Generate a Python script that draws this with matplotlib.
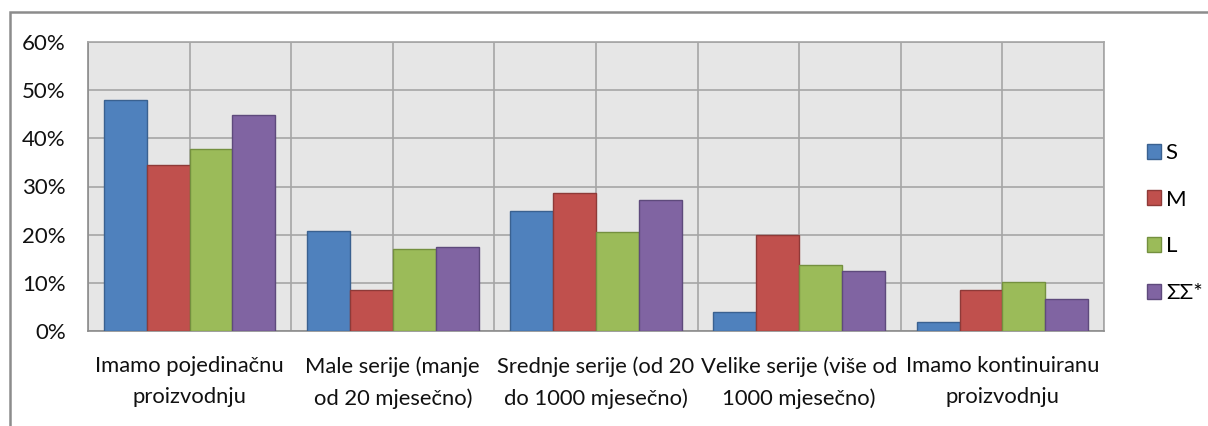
import numpy as np
import matplotlib
matplotlib.use("Agg")
import matplotlib.pyplot as plt
from matplotlib.patches import Rectangle
from matplotlib.ticker import FuncFormatter, MultipleLocator

plt.rcParams["font.family"] = ["Lato", "DejaVu Sans"]

categories = [
    "Imamo pojedinačnu\nproizvodnju",
    "Male serije (manje\nod 20 mjesečno)",
    "Srednje serije (od 20\ndo 1000 mjesečno)",
    "Velike serije (više od\n1000 mjesečno)",
    "Imamo kontinuiranu\nproizvodnju",
]
series_names = ["S", "M", "L", "ΣΣ*"]
s_vals = [48.0, 20.8, 25.0, 4.0, 1.9]
m_vals = [34.5, 8.5, 28.6, 20.0, 8.5]
l_vals = [37.8, 17.1, 20.6, 13.6, 10.1]
sum_vals = [44.8, 17.4, 27.2, 12.5, 6.6]

colors = ["#4F81BD", "#C0504D", "#9BBB59", "#8064A2"]
edges = ["#3A6190", "#8E3A38", "#74903F", "#5E4A7C"]

fig = plt.figure(figsize=(12.08, 4.26), dpi=100)
ax = fig.add_axes([88 / 1208, 95 / 426, 1016 / 1208, 289 / 426])

# outer chart frame
fig.patches.append(Rectangle((10 / 1208, -0.1), 1.2, 1 - 12 / 426 + 0.1,
                             transform=fig.transFigure, fill=False,
                             edgecolor="#8C8C8C", linewidth=1.8))

x = np.arange(len(categories))
w = 0.211
for i, vals in enumerate([s_vals, m_vals, l_vals, sum_vals]):
    ax.bar(x + (i - 1.5) * w, vals, width=w, color=colors[i],
           edgecolor=edges[i], linewidth=1, label=series_names[i], zorder=3)

ax.set_facecolor("#E6E6E6")
ax.set_xlim(-0.5, len(categories) - 0.5)
ax.set_ylim(0, 60)
ax.yaxis.set_major_locator(MultipleLocator(10))
ax.yaxis.set_major_formatter(FuncFormatter(lambda v, p: f"{v:.0f}%"))
ax.set_xticks(x)
ax.set_xticklabels(categories, fontsize=15.8, color="#111111", linespacing=1.7)
ax.set_xticks(np.arange(len(categories) + 1) - 0.5, minor=True)
ax.tick_params(axis="x", which="both", length=0, pad=18)
ax.tick_params(axis="y", length=0, pad=16, labelsize=16, labelcolor="#111111")

ax.grid(True, which="major", color="#A6A6A6", linewidth=1.2, zorder=0)
ax.grid(True, which="minor", axis="x", color="#A6A6A6", linewidth=1.2, zorder=0)
ax.set_axisbelow(True)
for side in ["left", "right", "top", "bottom"]:
    ax.spines[side].set_color("#A6A6A6")
    ax.spines[side].set_linewidth(1.2)
ax.spines["left"].set_color("#8C8C8C")
ax.spines["bottom"].set_color("#8C8C8C")

ax.legend(loc="upper left", bbox_to_anchor=(1138 / 1208, 1 - 134 / 426),
          bbox_transform=fig.transFigure, frameon=False, fontsize=16,
          handlelength=0.65, handleheight=0.65, handletextpad=0.2,
          labelspacing=1.2, borderaxespad=0)

fig.savefig("out.png", dpi=100)
